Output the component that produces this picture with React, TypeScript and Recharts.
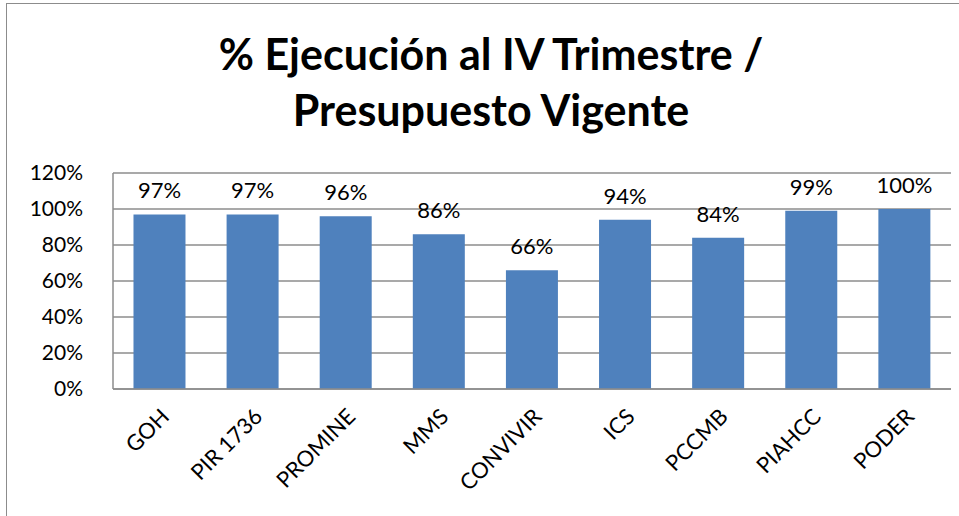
import React from "react";
import { BarChart, Bar, XAxis, YAxis, CartesianGrid, LabelList } from "recharts";

const programas = ["GOH", "PIR 1736", "PROMINE", "MMS", "CONVIVIR", "ICS", "PCCMB", "PIAHCC", "PODER"];
const ejecucion = [0.97, 0.97, 0.96, 0.86, 0.66, 0.94, 0.84, 0.99, 1.0];
const yTicks = [0, 0.2, 0.4, 0.6, 0.8, 1.0, 1.2];

const data = programas.map((p, i) => ({ name: p, value: ejecucion[i] }));

const font = "Lato, 'Open Sans', sans-serif";
const pct = (v: number) => `${Math.round(v * 100)}%`;

export default function App() {
  return (
    <div style={{ position: "fixed", left: 0, top: 0, width: 959, height: 516, background: "#fff", overflow: "hidden" }}>
      <div
        style={{
          position: "absolute",
          left: 6,
          top: 3,
          width: 980,
          height: 540,
          border: "1.5px solid #8c8c8c",
        }}
      />
      <div
        style={{
          position: "absolute",
          left: 0,
          top: 26,
          width: 982,
          textAlign: "center",
          fontFamily: font,
          fontWeight: 700,
          fontSize: 43,
          lineHeight: "56px",
          color: "#000",
        }}
      >
        % Ejecución al IV Trimestre /
        <br />
        Presupuesto Vigente
      </div>
      <div style={{ position: "absolute", left: 0, top: 0 }}>
        <BarChart
          width={959}
          height={516}
          data={data}
          margin={{ top: 173, right: 8, bottom: 0, left: 0 }}
          barCategoryGap="22%"
        >
          <CartesianGrid vertical={false} stroke="#8c8c8c" strokeWidth={1.5} />
          <YAxis
            width={113}
            domain={[0, 1.2]}
            ticks={yTicks}
            tickFormatter={pct}
            tickLine={false}
            axisLine={{ stroke: "#8c8c8c", strokeWidth: 1.5 }}
            tickMargin={24}
            tick={{ fill: "#000", fontSize: 21, fontFamily: font }}
          />
          <XAxis
            dataKey="name"
            height={127}
            interval={0}
            tickLine={false}
            axisLine={{ stroke: "#8c8c8c", strokeWidth: 1.5 }}
            angle={-45}
            textAnchor="end"
            tickMargin={12}
            tick={{ fill: "#000", fontSize: 22, fontFamily: font }}
          />
          <Bar dataKey="value" fill="#4f81bd" isAnimationActive={false}>
            <LabelList
              dataKey="value"
              position="top"
              offset={16}
              formatter={(v: number) => pct(v)}
              style={{ fill: "#000", fontSize: 22, fontFamily: font }}
            />
          </Bar>
        </BarChart>
      </div>
    </div>
  );
}
